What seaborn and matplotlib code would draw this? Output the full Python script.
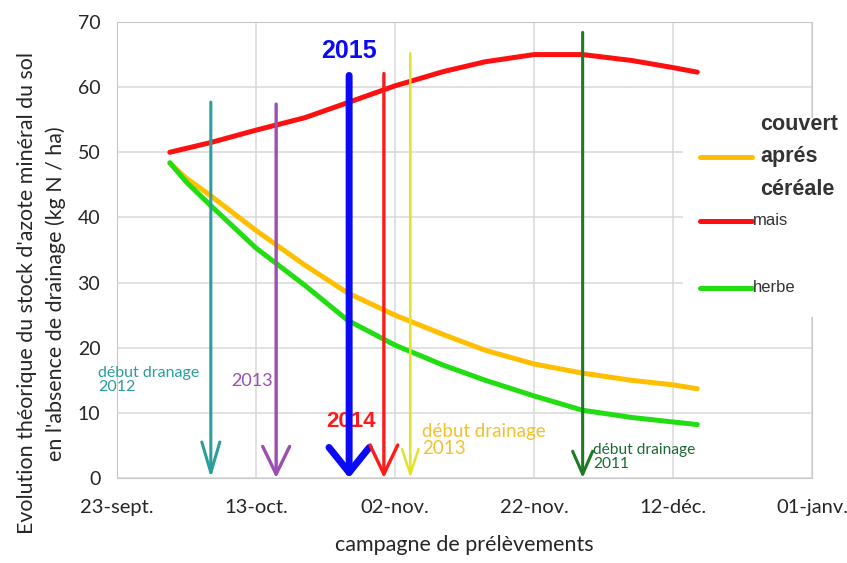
import matplotlib
matplotlib.use("Agg")
import matplotlib.pyplot as plt
import seaborn as sns
import pandas as pd
from matplotlib.patches import Rectangle
from matplotlib.lines import Line2D

# Days counted from 23 September
days_couvert = [7.6, 10.0, 13.4, 20.0, 27.0, 33.2, 40.0, 47.0, 53.0, 60.0, 67.0, 74.0, 80.0, 83.5]
vals_couvert = [48.3, 46.0, 43.4, 38.0, 32.7, 28.4, 25.0, 22.0, 19.6, 17.5, 16.1, 15.0, 14.3, 13.7]

days_mais = [7.6, 13.5, 20.0, 27.0, 33.4, 40.0, 47.0, 53.0, 60.0, 67.0, 74.0, 80.0, 83.5]
vals_mais = [50.0, 51.5, 53.4, 55.3, 57.7, 60.2, 62.4, 63.9, 65.0, 65.0, 64.1, 63.0, 62.3]

days_herbe = [7.6, 10.0, 13.4, 20.0, 27.0, 33.2, 40.0, 47.0, 53.0, 60.0, 67.0, 74.0, 80.0, 83.5]
vals_herbe = [48.4, 45.4, 41.9, 35.3, 29.6, 24.2, 20.4, 17.3, 15.0, 12.6, 10.4, 9.3, 8.6, 8.2]

series_names = ["couvert", "mais", "herbe"]
series_colors = {"couvert": "#ffbf00", "mais": "#ff1010", "herbe": "#22dd11"}

# Drainage start / campaign arrows: day, top value, colour, width
arrow_days = [13.5, 22.9, 33.4, 38.4, 42.2, 67.0]
arrow_tops = [57.7, 57.4, 61.8, 62.1, 65.2, 68.4]
arrow_colors = ["#2a9d9d", "#9a4fb2", "#0a0af5", "#ff1a1a", "#e2e22a", "#1c7a22"]
arrow_widths = [2.2, 2.4, 5.0, 2.4, 1.8, 2.2]
arrow_head_len = [2.2, 2.0, 1.8, 2.1, 1.8, 1.65]
arrow_head_wid = [0.65, 0.97, 1.45, 1.0, 0.6, 0.72]

tick_days = [0, 20, 40, 60, 80, 100]
tick_labels = ["23-sept.", "13-oct.", "02-nov.", "22-nov.", "12-déc.", "01-janv."]
y_ticks = [0, 10, 20, 30, 40, 50, 60, 70]

legend_labels = {"couvert": "couvert\naprés\ncéréale", "mais": "mais", "herbe": "herbe"}

frames = []
for name, d, v in [("couvert", days_couvert, vals_couvert),
                   ("mais", days_mais, vals_mais),
                   ("herbe", days_herbe, vals_herbe)]:
    frames.append(pd.DataFrame({"jour": d, "azote": v, "culture": name}))
df = pd.concat(frames, ignore_index=True)

sns.set_style("whitegrid", {"grid.color": "#d9d9d9", "axes.edgecolor": "#c8c8c8"})
plt.rcParams["font.family"] = ["Lato", "DejaVu Sans"]

fig = plt.figure(figsize=(8.47, 5.63), dpi=100)
ax = fig.add_axes([117 / 847, 1 - 478 / 563, (812 - 117) / 847, (478 - 22) / 563])

sns.lineplot(data=df, x="jour", y="azote", hue="culture", hue_order=series_names,
             palette=series_colors, linewidth=3.6, legend=False, ax=ax, zorder=2)

ax.set_xlim(0, 100)
ax.set_ylim(0, 70)
ax.set_xticks(tick_days)
ax.set_xticklabels(tick_labels)
ax.set_yticks(y_ticks)
ax.tick_params(axis="both", length=0, labelcolor="#262626")
ax.tick_params(axis="x", labelsize=14.5, pad=15)
ax.tick_params(axis="y", labelsize=14, pad=12)
ax.grid(True, linewidth=1.1)

ax.set_ylabel("Evolution théorique du stock d'azote minéral du sol\n"
              "en l'absence de drainage (kg N / ha)",
              fontsize=15.4, color="#262626", linespacing=1.5)
ax.yaxis.label.set_va("center")
ax.yaxis.set_label_coords(-0.109, 0.405)

ax.set_xlabel("campagne de prélèvements", fontsize=15.5, color="#262626")
ax.xaxis.label.set_va("center")
ax.xaxis.set_label_coords(0.50, -0.147)

# Drainage arrows
for d, top, c, lw, hl, hw in zip(arrow_days, arrow_tops, arrow_colors,
                                 arrow_widths, arrow_head_len, arrow_head_wid):
    ax.annotate("", xy=(d, 0), xytext=(d, top),
                arrowprops=dict(arrowstyle=f"->,head_length={hl},head_width={hw}",
                                color=c, lw=lw, shrinkA=0, shrinkB=0,
                                mutation_scale=10),
                zorder=4, annotation_clip=False)

# Annotations
ax.text(-2.7, 15.0, "début dranage\n2012", color="#2a9d9d", fontsize=11.5,
        ha="left", va="center", linespacing=1.0, clip_on=False, zorder=5)
ax.text(16.5, 14.9, "2013", color="#9a4fb2", fontsize=13, ha="left", va="center", zorder=5)
ax.text(43.9, 5.8, "début drainage\n2013", color="#f2c12e", fontsize=13.5,
        ha="left", va="center", linespacing=1.0, zorder=5)
ax.text(68.5, 3.2, "début drainage\n2011", color="#1b6a32", fontsize=11.2,
        ha="left", va="center", linespacing=0.95, zorder=5)
ax.text(33.7, 8.6, "2014", color="#ff1a1a", fontsize=16, fontweight="bold",
        family="Liberation Sans", ha="center", va="center", zorder=3)
ax.text(33.4, 65.5, "2015", color="#0a0af5", fontsize=18, fontweight="bold",
        family="Liberation Sans", ha="center", va="center", zorder=6)

# Legend block on the right
T = ax.transAxes
ax.add_patch(Rectangle((0.814, 0.353), 0.30, 0.436, transform=T, facecolor="white",
                       edgecolor="none", clip_on=False, zorder=6))
legend_y = {"couvert": 0.704, "mais": 0.564, "herbe": 0.417}
for name in series_names:
    y = legend_y[name]
    ax.add_line(Line2D([0.839, 0.914], [y, y], transform=T, color=series_colors[name],
                       lw=3.6, clip_on=False, zorder=7))
ax.text(0.925, legend_y["couvert"], legend_labels["couvert"], transform=T,
        family="Liberation Sans", fontsize=15.5, fontweight="bold", color="#333333",
        ha="left", va="center", linespacing=1.7, zorder=7, clip_on=False)
for name in ["mais", "herbe"]:
    ax.text(0.915, legend_y[name], legend_labels[name], transform=T,
            family="Liberation Sans", fontsize=12, color="#333333",
            ha="left", va="center", zorder=7, clip_on=False)

fig.savefig("out.png", dpi=100)
